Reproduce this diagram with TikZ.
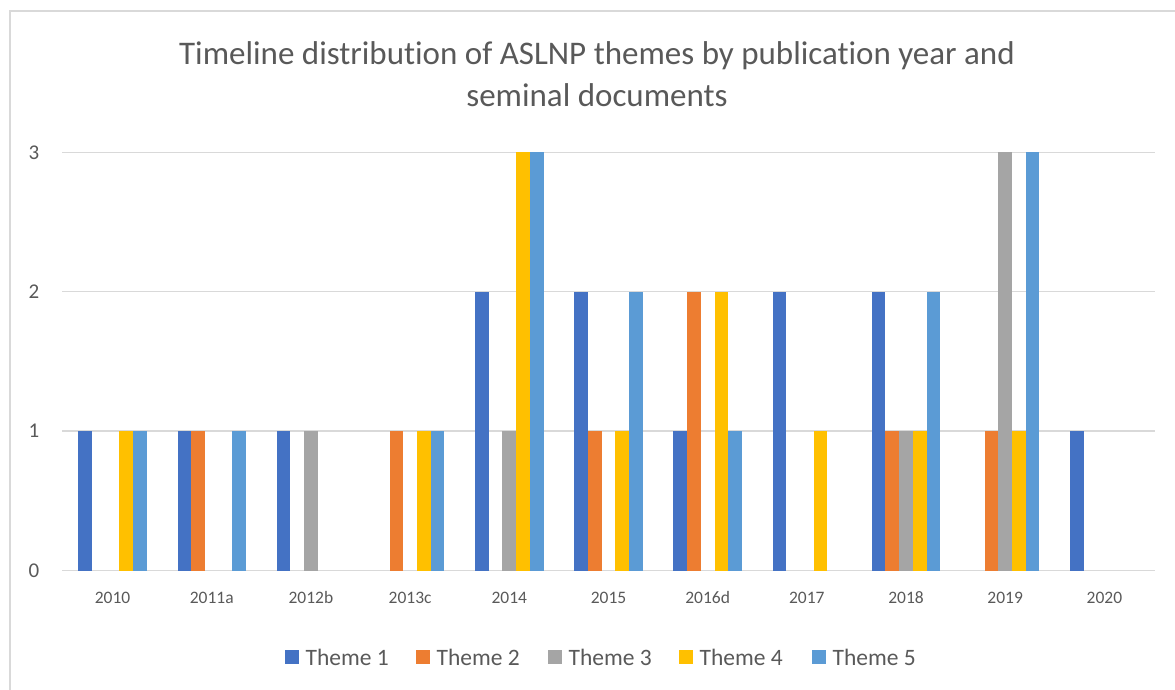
\documentclass[tikz,border=0pt]{standalone}
\usepackage{fontspec}
\setmainfont{Carlito}[Ligatures=NoCommon]
\usetikzlibrary{positioning}

\definecolor{themeA}{HTML}{4472C4}
\definecolor{themeB}{HTML}{ED7D31}
\definecolor{themeC}{HTML}{A5A5A5}
\definecolor{themeD}{HTML}{FFC000}
\definecolor{themeE}{HTML}{5B9BD5}
\definecolor{txtgray}{HTML}{595959}
\definecolor{linegray}{HTML}{D9D9D9}

\tikzset{
  charttext/.style={text=txtgray, inner sep=0pt},
  catlabel/.style={charttext, font=\fontsize{17.5}{20}\selectfont},
  vallabel/.style={charttext, font=\fontsize{21}{24}\selectfont},
  legtext/.style={charttext, font=\fontsize{23.5}{26}\selectfont, anchor=west},
  legbox/.style={minimum size=14pt, inner sep=0pt, anchor=west},
  gridline/.style={linegray, line width=1.3pt},
}

\begin{document}
\begin{tikzpicture}[x=1pt, y=-1pt, line cap=rect]
\useasboundingbox (0,0) rectangle (1175,690);

% Chart frame (cut off at right and bottom)
\draw[linegray, line width=1.5pt] (10,690) -- (10,11) -- (1175,11);

% Title
\node[charttext, align=center, font=\fontsize{33}{42}\selectfont] (title) at (597,74)
  {Timeline distribution of ASLNP themes by publication year and\\seminal documents};

% Grid and value axis ------------------------------
\pgfmathsetmacro{\ybase}{570.5}
\pgfmathsetmacro{\yunit}{139.4}
\foreach \v in {0,...,3} {
  \draw[gridline] (63,{\ybase-\yunit*\v}) -- (1154,{\ybase-\yunit*\v});
  \node[vallabel] (val\v) at (34,{\ybase-\yunit*\v}) {\v};
}

% Bars ---------------------------------------------
\pgfmathsetmacro{\catw}{99.18}
\pgfmathsetmacro{\barw}{13.7}
\foreach \cat/\a/\b/\c/\d/\e [count=\i from 0] in {
    2010/1/0/0/1/1, 2011a/1/1/0/0/1, 2012b/1/0/1/0/0, 2013c/0/1/0/1/1,
    2014/2/0/1/3/3, 2015/2/1/0/1/2, 2016d/1/2/0/2/1, 2017/2/0/0/1/0,
    2018/2/1/1/1/2, 2019/0/1/3/1/3, 2020/1/0/0/0/0} {
  \pgfmathsetmacro{\cx}{63+\catw*(\i+0.5)}
  \foreach \val/\col [count=\j from -2] in {\a/themeA, \b/themeB, \c/themeC, \d/themeD, \e/themeE} {
    \ifnum\val>0
      \fill[\col] ({\cx+\j*\barw-\barw/2},\ybase) rectangle ({\cx+\j*\barw+\barw/2},{\ybase-\yunit*\val});
    \fi
  }
  \node[catlabel] (cat\i) at (\cx,597.5) {\cat};
}

% Legend -------------------------------------------
\foreach \n/\col/\x in {1/themeA/285, 2/themeB/416, 3/themeC/548, 4/themeD/679, 5/themeE/812} {
  \node[legbox, fill=\col] (leg\n) at (\x,657) {};
  \node[legtext, right=6pt of leg\n] (legt\n) {Theme \n};
}

\end{tikzpicture}
\end{document}
